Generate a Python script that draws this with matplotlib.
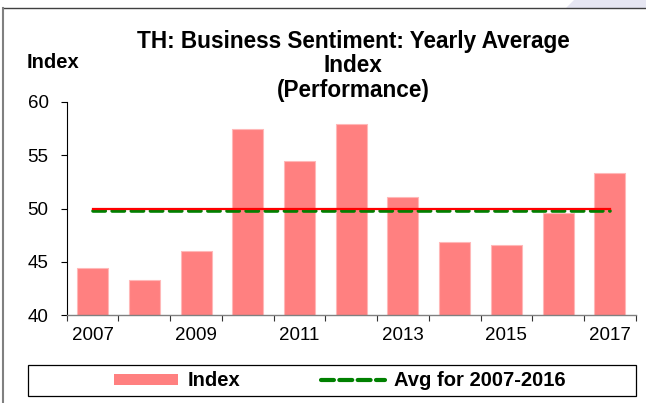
import matplotlib
matplotlib.use("Agg")
import matplotlib.pyplot as plt
from matplotlib.lines import Line2D
from matplotlib.patches import Rectangle, Polygon, Patch

plt.rcParams['font.family'] = ['Liberation Sans', 'DejaVu Sans']

years = [2007, 2008, 2009, 2010, 2011, 2012, 2013, 2014, 2015, 2016, 2017]
index_values = [44.4, 43.3, 46.0, 57.5, 54.5, 57.9, 51.1, 46.9, 46.6, 49.6, 53.3]
avg_2007_2016 = 49.8
ref_level = 50.0
tick_labels = ['2007', '2009', '2011', '2013', '2015', '2017']

W, H = 646, 403
fig = plt.figure(figsize=(W / 100, H / 100), dpi=100)
ax = fig.add_axes([66.7 / W, 1 - 315 / H, (635.7 - 66.7) / W, (315 - 102) / H])

x = list(range(len(years)))
ax.bar(x, index_values, width=0.6, color='#FF8080', edgecolor='#FFB8B8', linewidth=0.8, zorder=2)
ax.plot([x[0], x[-1]], [avg_2007_2016] * 2, color='#008000', lw=2.6,
        linestyle=(0, (3.4, 1.9)), solid_capstyle='round', dash_capstyle='round', zorder=3)
ax.plot([x[0], x[-1]], [ref_level] * 2, color='#FF0000', lw=1.6, zorder=4)

ax.set_xlim(-0.5, len(years) - 0.5)
ax.set_ylim(40, 60)
ax.set_yticks([40, 45, 50, 55, 60])
ax.tick_params(axis='y', direction='out', length=4.5, width=0.8, pad=8.5, labelsize=13.5)

ax.set_xticks([i - 0.5 for i in range(len(years) + 1)])
ax.set_xticklabels([])
ax.set_xticks([years.index(int(t)) for t in tick_labels], minor=True)
ax.set_xticklabels(tick_labels, minor=True)
ax.tick_params(axis='x', which='major', direction='out', length=4, width=0.8, color='#333333')
ax.tick_params(axis='x', which='minor', length=0, pad=9, labelsize=13.5)

for s in ['top', 'right']:
    ax.spines[s].set_visible(False)
ax.spines['left'].set_color('black')
ax.spines['left'].set_linewidth(0.8)
ax.spines['bottom'].set_color('#808080')
ax.spines['bottom'].set_linewidth(1.0)

fig.text(353 / W, 1 - 66 / H, 'TH: Business Sentiment: Yearly Average\nIndex\n(Performance)',
         ha='center', va='center', fontsize=16.3, fontweight='bold', linespacing=1.07)
fig.text(27 / W, 1 - 62 / H, 'Index', ha='left', va='center', fontsize=14.5, fontweight='bold')

# outer frame and decoration
fig.add_artist(Polygon([[566 / W, 1 - 8 / H], [574 / W, 1.0], [1.0, 1.0], [1.0, 1 - 8 / H]],
                       closed=True, transform=fig.transFigure, facecolor='#E6E6F2', edgecolor='none'))
fig.add_artist(Line2D([3 / W, 1.0], [1 - 8 / H, 1 - 8 / H], transform=fig.transFigure, color='#404040', lw=1.0))
fig.add_artist(Line2D([3 / W, 3 / W], [0, 1 - 8 / H], transform=fig.transFigure, color='#808080', lw=1.5))

# legend box
fig.add_artist(Rectangle((28 / W, 1 - 396 / H), (636 - 28) / W, (396 - 365) / H,
                         transform=fig.transFigure, facecolor='white', edgecolor='black', lw=0.9))
handles = [Patch(facecolor='#FF8080', edgecolor='none'),
           Line2D([0], [0], color='#008000', lw=3.0, linestyle=(0, (3.1, 1.3)), dash_capstyle='round')]
fig.legend(handles, ['Index', 'Avg for 2007-2016'], loc='center',
           bbox_to_anchor=(340 / W, 1 - 381 / H), ncol=2, frameon=False,
           prop={'weight': 'bold', 'size': 14.5}, handlelength=3.2, handletextpad=0.45,
           columnspacing=4.0, handleheight=0.5)

fig.savefig('out.png', dpi=100)
